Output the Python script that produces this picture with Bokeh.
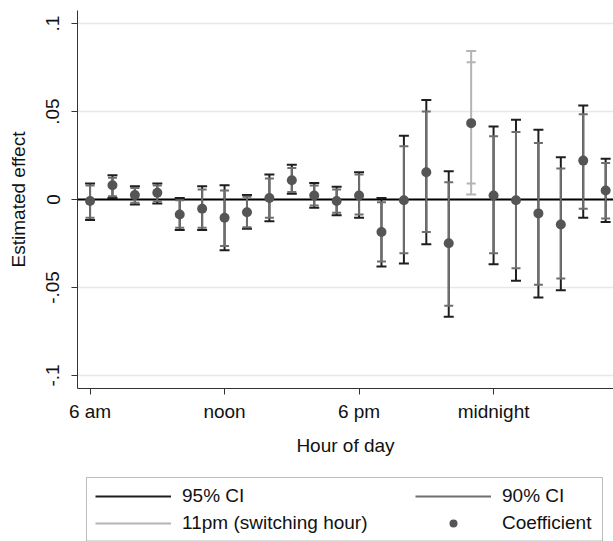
import numpy as np
from bokeh.plotting import figure
from bokeh.layouts import column
from bokeh.models import (Range1d, FixedTicker, Span, Legend, LegendItem,
                          ColumnDataSource, BoxAnnotation)
from bokeh.embed import file_html
from bokeh.resources import INLINE

# ---- data ----
hours = [6, 7, 8, 9, 10, 11, 12, 13, 14, 15, 16, 17,
         18, 19, 20, 21, 22, 23, 24, 25, 26, 27, 28, 29]
coef = [-0.0009, 0.0081, 0.0025, 0.0038, -0.0085, -0.0053, -0.0104, -0.0072,
        0.0009, 0.0109, 0.0023, -0.0009, 0.0023, -0.0185, -0.0004, 0.0155,
        -0.0249, 0.0434, 0.0023, -0.0004, -0.0079, -0.0142, 0.0221, 0.0051]
lo95 = [-0.0117, 0.0009, -0.0028, -0.0023, -0.0174, -0.0174, -0.0289, -0.0166,
        -0.0123, 0.0032, -0.0047, -0.0089, -0.0104, -0.0381, -0.0364, -0.0255,
        -0.0666, 0.0028, -0.0368, -0.0462, -0.0557, -0.0515, -0.0104, -0.0128]
hi95 = [0.0091, 0.0138, 0.0075, 0.0091, 0.0009, 0.0075, 0.0081, 0.0025,
        0.0142, 0.0198, 0.0094, 0.0072, 0.0155, 0.0009, 0.0362, 0.0566,
        0.0160, 0.0844, 0.0415, 0.0453, 0.0396, 0.0240, 0.0534, 0.0232]
lo90 = [-0.0104, 0.0019, -0.0019, -0.0009, -0.0160, -0.0160, -0.0264, -0.0157,
        -0.0104, 0.0042, -0.0034, -0.0075, -0.0085, -0.0353, -0.0306, -0.0185,
        -0.0604, 0.0091, -0.0306, -0.0391, -0.0485, -0.0449, -0.0053, -0.0108]
hi90 = [0.0079, 0.0123, 0.0066, 0.0079, -0.0004, 0.0057, 0.0051, 0.0015,
        0.0119, 0.0179, 0.0079, 0.0057, 0.0142, -0.0015, 0.0302, 0.0500,
        0.0098, 0.0780, 0.0359, 0.0383, 0.0321, 0.0176, 0.0485, 0.0208]
switch_hour = 23

xtick_values = [6, 12, 18, 24]
xtick_labels = ["6 am", "noon", "6 pm", "midnight"]
ytick_values = [-0.1, -0.05, 0, 0.05, 0.1]
ytick_labels = ["-.1", "-.05", "0", ".05", ".1"]

legend_labels = ["95% CI", "90% CI", "11pm (switching hour)", "Coefficient"]

# ---- styles ----
FONT = "Liberation Sans"
C95 = "#1e1e1e"
C90 = "#6e6e6e"
CSW = "#b4b4b4"
CDOT = "#555555"

def subset(keep):
    idx = [i for i, h in enumerate(hours) if keep(h)]
    return ColumnDataSource(dict(
        x=[hours[i] for i in idx], coef=[coef[i] for i in idx],
        lo95=[lo95[i] for i in idx], hi95=[hi95[i] for i in idx],
        lo90=[lo90[i] for i in idx], hi90=[hi90[i] for i in idx]))

src_reg = subset(lambda h: h != switch_hour)
src_sw = subset(lambda h: h == switch_hour)
src_all = ColumnDataSource(dict(x=hours, coef=coef))

p = figure(width=613, height=468,
           x_range=Range1d(5.44, 29.35), y_range=Range1d(-0.1074, 0.1074),
           output_backend="svg", toolbar_location=None,
           min_border_left=77, min_border_right=0, min_border_top=10,
           min_border_bottom=80)
p.outline_line_color = None
p.background_fill_color = "white"
p.border_fill_color = "white"

zero = Span(location=0, dimension="width", line_color="black", line_width=2,
            level="underlay")
p.add_layout(zero)

# regular hours: 95% then 90% on top
p.segment(x0="x", y0="lo95", x1="x", y1="hi95", source=src_reg,
          line_color=C95, line_width=2)
p.scatter(x="x", y="lo95", source=src_reg, marker="dash", size=10,
          line_color=C95, line_width=2)
p.scatter(x="x", y="hi95", source=src_reg, marker="dash", size=10,
          line_color=C95, line_width=2)
p.segment(x0="x", y0="lo90", x1="x", y1="hi90", source=src_reg,
          line_color=C90, line_width=2)
p.scatter(x="x", y="lo90", source=src_reg, marker="dash", size=9,
          line_color=C90, line_width=2)
p.scatter(x="x", y="hi90", source=src_reg, marker="dash", size=9,
          line_color=C90, line_width=2)

# switching hour
p.segment(x0="x", y0="lo95", x1="x", y1="hi95", source=src_sw,
          line_color=CSW, line_width=2)
for col in ["lo95", "hi95", "lo90", "hi90"]:
    p.scatter(x="x", y=col, source=src_sw, marker="dash",
              size=10 if "95" in col else 9, line_color=CSW, line_width=2)

p.scatter(x="x", y="coef", source=src_all, marker="circle", size=10,
          fill_color=CDOT, line_color=None)

# axes
p.xaxis.ticker = FixedTicker(ticks=xtick_values)
p.xaxis.major_label_overrides = dict(zip(xtick_values, xtick_labels))
p.yaxis.ticker = FixedTicker(ticks=ytick_values)
p.yaxis.major_label_overrides = dict(zip(ytick_values, ytick_labels))
p.yaxis.major_label_orientation = "vertical"
p.xaxis.axis_label = "Hour of day"
p.yaxis.axis_label = "Estimated effect"
for ax in (p.xaxis, p.yaxis):
    ax.axis_line_color = "#333333"
    ax.axis_line_width = 1
    ax.major_tick_line_color = "#333333"
    ax.major_tick_out = 6
    ax.major_tick_in = 0
    ax.minor_tick_line_color = None
    ax.major_label_text_font = FONT
    ax.major_label_text_font_size = "19px"
    ax.major_label_text_color = "#111111"
    ax.axis_label_text_font = FONT
    ax.axis_label_text_font_size = "19px"
    ax.axis_label_text_font_style = "normal"
    ax.axis_label_text_color = "#111111"
p.xaxis.major_label_standoff = 6
p.xaxis.axis_label_standoff = 10
p.yaxis.major_label_standoff = 12
p.yaxis.axis_label_standoff = 15

p.xgrid.grid_line_color = None
p.ygrid.ticker = FixedTicker(ticks=ytick_values)
p.ygrid.grid_line_color = "#e8e8e8"
p.ygrid.grid_line_width = 1.5

# ---- legend strip below the plot (frame aligned with the plot frame) ----
LW, LH = 536, 73
lg = figure(width=613, height=LH, x_range=Range1d(0, LW), y_range=Range1d(0, LH),
            output_backend="svg", toolbar_location=None,
            x_axis_type=None, y_axis_type=None, min_border=0, min_border_left=77)
lg.outline_line_color = None
lg.xgrid.grid_line_color = None
lg.ygrid.grid_line_color = None
lg.border_fill_color = "white"

# box around the keys
lg.add_layout(BoxAnnotation(left=9, right=525, bottom=0.5, top=64,
                            fill_color=None, line_color="#222222", line_width=1))

dummy = ColumnDataSource(dict(x=np.array([np.nan]), y=np.array([np.nan])))
k95 = lg.segment(x0="x", y0="y", x1="x", y1="y", source=dummy,
                 line_color=C95, line_width=2)
k90 = lg.segment(x0="x", y0="y", x1="x", y1="y", source=dummy,
                 line_color=C90, line_width=2)
ksw = lg.segment(x0="x", y0="y", x1="x", y1="y", source=dummy,
                 line_color=CSW, line_width=2)
kdot = lg.scatter(x="x", y="y", source=dummy, marker="circle", size=10,
                  fill_color=CDOT, line_color=None)

common = dict(orientation="vertical", glyph_width=76, glyph_height=20,
              label_height=20, label_standoff=11, padding=6, spacing=5, margin=0,
              label_text_font=FONT, label_text_font_size="19px",
              label_text_color="#111111", border_line_color=None,
              background_fill_alpha=0.0)
leg_a = Legend(items=[LegendItem(label=legend_labels[0], renderers=[k95]),
                      LegendItem(label=legend_labels[2], renderers=[ksw])],
               location=(18, 7), **common)
leg_b = Legend(items=[LegendItem(label=legend_labels[1], renderers=[k90]),
                      LegendItem(label=legend_labels[3], renderers=[kdot])],
               location=(338, 7), **common)
lg.add_layout(leg_a, "center")
lg.add_layout(leg_b, "center")

layout = column(p, lg, spacing=0)
open("out.html", "w").write(file_html(layout, INLINE))
